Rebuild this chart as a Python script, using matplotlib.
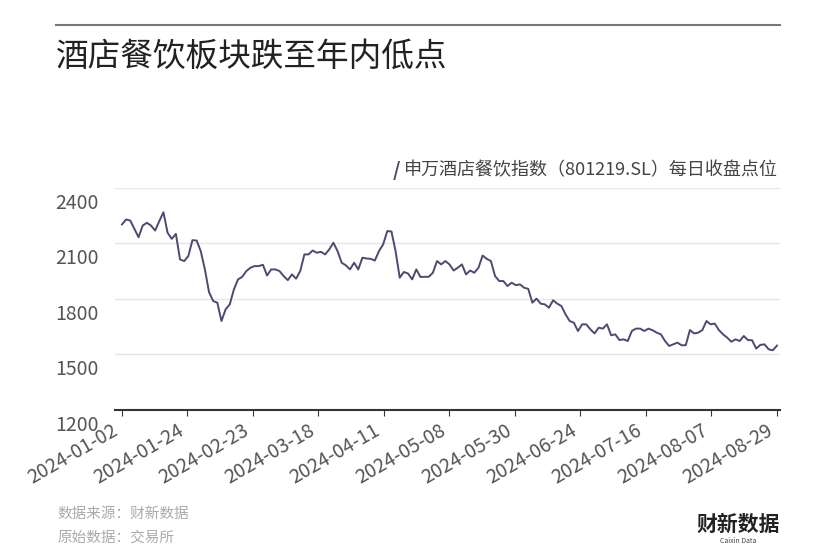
import matplotlib
matplotlib.use("Agg")
import matplotlib.pyplot as plt
from matplotlib.lines import Line2D
import numpy as np

plt.rcParams['font.family'] = ['Noto Sans CJK SC', 'DejaVu Sans']

values = [2203,2230,2224,2179,2134,2197,2212,2197,2170,2221,2269,2158,2125,2152,2014,2005,2032,2118,2116,2059,
          1960,1837,1789,1780,1681,1744,1771,1852,1906,1920,1951,1969,1978,1978,1985,1927,1960,1960,1951,1924,
          1902,1933,1910,1951,2041,2041,2062,2050,2055,2041,2068,2104,2059,1996,1982,1960,1996,1960,2023,2019,
          2017,2008,2059,2095,2167,2165,2059,1915,1946,1938,1906,1960,1919,1920,1920,1942,2005,1987,2005,1987,
          1954,1969,1987,1933,1954,1942,1969,2035,2017,2005,1924,1897,1897,1870,1888,1875,1879,1861,1855,1780,
          1802,1775,1771,1753,1793,1775,1762,1717,1681,1672,1627,1663,1663,1636,1614,1645,1640,1663,1604,1609,
          1578,1582,1573,1627,1640,1640,1627,1640,1631,1618,1609,1573,1546,1555,1564,1550,1550,1632,1614,1618,
          1632,1681,1663,1667,1632,1609,1591,1569,1582,1573,1600,1578,1577,1532,1552,1555,1528,1523,1548]
tick_labels = ['2024-01-02','2024-01-24','2024-02-23','2024-03-18','2024-04-11','2024-05-08',
               '2024-05-30','2024-06-24','2024-07-16','2024-08-07','2024-08-29']
y_ticks = [1200,1500,1800,2100,2400]

fig = plt.figure(figsize=(8.28,5.6), dpi=100)
fig.add_artist(Line2D([56/828, 780/828], [1-25/560, 1-25/560], color='#777777', lw=1.5))
ax = fig.add_axes([115/828, 1-410/560, 665/828, 222/560])
x = np.linspace(0, 150, len(values))
ax.plot(x, values, color='#4b4a72', lw=1.4)
ax.set_xlim(-1.6, 150.7)
ax.set_ylim(1200, 2400)
ax.set_xticks(np.arange(0, 151, 15))
ax.set_xticklabels(tick_labels, rotation=30, ha='right', fontsize=14, color='#555555')
ax.set_yticks(y_ticks)
ax.set_yticklabels([])
for v in y_ticks:
    ax.axhline(v, color='#e6e6e6', lw=1, zorder=0)
    ax.text(-0.09, v - 25, str(v), transform=ax.get_yaxis_transform(), va='top', ha='left',
            fontsize=14, color='#555555')
for s in ['top','right','left']:
    ax.spines[s].set_visible(False)
ax.spines['bottom'].set_color('#333333')
ax.spines['bottom'].set_linewidth(1.5)
ax.tick_params(axis='y', length=0)
ax.tick_params(axis='x', length=4, color='#333333')

fig.text(56/828, 1-57/560, '酒店餐饮板块跌至年内低点', fontsize=23.5, va='center', ha='left', color='#222222')
fig.text(778/828, 1-170/560, '申万酒店餐饮指数（801219.SL）每日收盘点位', fontsize=13, va='center', ha='right', color='#444444')
fig.text(396/828, 1-170/560, '/', fontsize=14, va='center', ha='center', color='#4b4a72', fontweight='bold')
fig.text(57/828, 1-514/560, '数据来源：财新数据', fontsize=10.5, va='center', color='#aaaaaa')
fig.text(57/828, 1-538/560, '原始数据：交易所', fontsize=10.5, va='center', color='#aaaaaa')
fig.text(738/828, 1-524/560, '财新数据', fontsize=15, va='center', ha='center', color='#222222', fontweight='bold')
fig.text(738/828, 1-541/560, 'Caixin Data', fontsize=5, va='center', ha='center', color='#444444')
fig.savefig('out.png', dpi=100)
